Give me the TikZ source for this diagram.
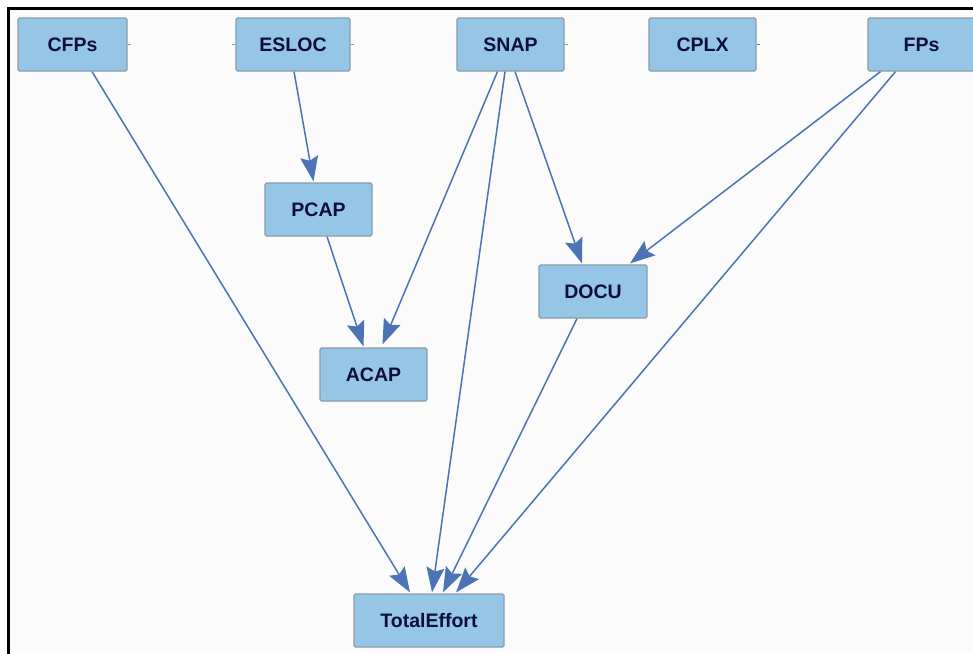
\documentclass[tikz,border=0pt]{standalone}
\usepackage{fontspec}
\setmainfont{Liberation Sans}
\usetikzlibrary{arrows.meta,calc}
\definecolor{boxfill}{HTML}{95C6E5}
\definecolor{boxline}{HTML}{8A9BAA}
\definecolor{edgeblue}{HTML}{4C73B6}
\definecolor{labelink}{HTML}{0E0E3A}
\definecolor{canvas}{HTML}{FBFBFB}
\tikzset{
  varbox/.style={draw=boxline, line width=1.2pt, fill=boxfill, rounded corners=1.5pt,
    minimum height=53pt, inner sep=0pt, text=labelink,
    font=\fontsize{19.5}{22}\selectfont\bfseries},
  link/.style={draw=edgeblue, line width=1.5pt,
    -{Stealth[length=25pt,width=18pt,inset=4pt,fill=edgeblue]}},
  stub/.style={draw=boxline, line width=1.2pt}
}
\begin{document}
\begin{tikzpicture}[x=1pt,y=-1pt]
\useasboundingbox (0,0) rectangle (973,653);
\clip (0,0) rectangle (973,653);
% canvas and frame
\fill[white] (0,0) rectangle (973,653);
\fill[canvas] (9,9) rectangle (973,653);
\draw[black, line width=3pt] (8,660) -- (8,8) -- (980,8);

% variables
\node[varbox, minimum width=109pt] (cfps)  at (72.5,44.5) {CFPs};
\node[varbox, minimum width=114pt] (esloc) at (293,44.5)  {ESLOC};
\node[varbox, minimum width=107pt] (snap)  at (510.5,44.5) {SNAP};
\node[varbox, minimum width=107pt] (cplx)  at (702.5,44.5) {CPLX};
\node[varbox, minimum width=107pt] (fps)   at (921.5,44.5) {FPs};
\node[varbox, minimum width=107pt] (pcap)  at (318.5,209.5) {PCAP};
\node[varbox, minimum width=107pt] (acap)  at (373.5,374.5) {ACAP};
\node[varbox, minimum width=108pt] (docu)  at (593,291.5) {DOCU};
\node[varbox, minimum width=150pt] (total) at (429,620.5) {TotalEffort};

% short port stubs on box sides
\draw[stub] (cfps.east) -- ++(3,0);
\draw[stub] (esloc.west) -- ++(-3,0);
\draw[stub] (esloc.east) -- ++(3,0);
\draw[stub] (snap.east) -- ++(3,0);
\draw[stub, edgeblue] (cplx.east) -- ++(3,0);

% dependencies
\draw[link] ($(cfps.south)+(19.5,0)$) -- ($(total.north)+(-19,-1)$);
\draw[link] ($(esloc.south)+(1,0)$) -- ($(pcap.north)+(-5,-1)$);
\draw[link] ($(pcap.south)+(8.5,0)$) -- ($(acap.north)+(-10,-1)$);
\draw[link] ($(snap.south)+(-13,0)$) -- ($(acap.north)+(9,-3)$);
\draw[link] ($(snap.south)+(-5.5,0)$) -- ($(total.north)+(3,-1)$);
\draw[link] ($(snap.south)+(4.5,0)$) -- ($(docu.north)+(-11,-1)$);
\draw[link] ($(fps.south)+(-41,0)$) -- ($(docu.north)+(37,-1)$);
\draw[link] ($(fps.south)+(-26,0)$) -- ($(total.north)+(27,-1)$);
\draw[link] ($(docu.south)+(-16,0)$) -- ($(total.north)+(14,-1)$);
\end{tikzpicture}
\end{document}
